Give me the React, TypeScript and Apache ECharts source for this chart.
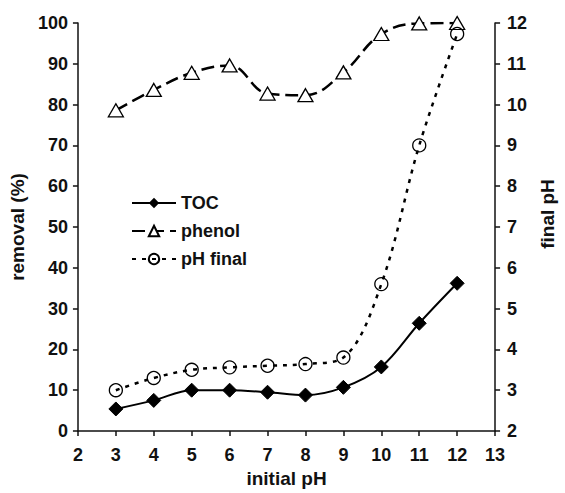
import React, { useEffect, useRef } from "react";
import * as echarts from "echarts";

const initialPH = [3, 4, 5, 6, 7, 8, 9, 10, 11, 12];
const tocRemoval = [5.4, 7.5, 10.0, 10.0, 9.5, 8.8, 10.7, 15.7, 26.4, 36.2];
const phenolRemoval = [78.6, 83.6, 87.8, 89.6, 82.7, 82.3, 87.9, 97.3, 99.9, 100];
const finalPH = [3.0, 3.3, 3.5, 3.56, 3.6, 3.64, 3.8, 5.6, 9.0, 11.73];

const FONT = "'Liberation Sans', Arial, sans-serif";

export default function App() {
  const ref = useRef<HTMLDivElement>(null);
  useEffect(() => {
    if (!ref.current) return;
    const chart = echarts.init(ref.current, undefined, { renderer: "svg" });
    const pair = (ys: number[]) => initialPH.map((x, i) => [x, ys[i]]);
    const labelStyle = { color: "#111", fontFamily: FONT, fontWeight: 700, fontSize: 18 };
    const nameStyle = { color: "#111", fontFamily: FONT, fontWeight: 700, fontSize: 19 };
    const axisLine = { show: true, lineStyle: { color: "#111", width: 1.5 } };
    const axisTick = { show: true, length: 5, inside: false, lineStyle: { color: "#111", width: 1.5 } };
    chart.setOption({
      animation: false,
      backgroundColor: "#fff",
      grid: { left: 76, right: 63, top: 23, bottom: 60, containLabel: false },
      legend: {
        orient: "vertical",
        left: 126,
        top: 189,
        itemWidth: 44,
        itemHeight: 13,
        itemGap: 10,
        textStyle: { ...labelStyle, fontSize: 18 },
        data: ["TOC", "phenol", "pH final"],
      },
      xAxis: {
        type: "value",
        min: 2,
        max: 13,
        interval: 1,
        name: "initial pH",
        nameLocation: "middle",
        nameGap: 38,
        nameTextStyle: nameStyle,
        axisLine,
        axisTick,
        splitLine: { show: false },
        axisLabel: { ...labelStyle, margin: 15 },
      },
      yAxis: [
        {
          type: "value",
          min: 0,
          max: 100,
          interval: 10,
          name: "removal (%)",
          nameLocation: "middle",
          nameGap: 50,
          nameTextStyle: nameStyle,
          axisLine,
          axisTick,
          splitLine: { show: false },
          axisLabel: { ...labelStyle, margin: 10 },
        },
        {
          type: "value",
          min: 2,
          max: 12,
          interval: 1,
          position: "right",
          name: "final pH",
          nameLocation: "middle",
          nameGap: 38,
          nameTextStyle: { ...nameStyle, padding: [0, 0, 0, 26] },
          axisLine,
          axisTick,
          splitLine: { show: false },
          axisLabel: { ...labelStyle, margin: 12 },
        },
      ],
      series: [
        {
          name: "TOC",
          type: "line",
          yAxisIndex: 0,
          data: pair(tocRemoval),
          smooth: 0.35,
          symbol: "diamond",
          symbolSize: 14,
          lineStyle: { color: "#000", width: 2 },
          itemStyle: { color: "#000", borderColor: "#000" },
          z: 3,
        },
        {
          name: "phenol",
          type: "line",
          yAxisIndex: 0,
          data: pair(phenolRemoval),
          smooth: 0.4,
          symbol: "triangle",
          symbolSize: [15, 13],
          lineStyle: { color: "#000", width: 2.5, type: [13, 6] },
          itemStyle: { color: "#fff", borderColor: "#000", borderWidth: 1.3 },
          z: 2,
        },
        {
          name: "pH final",
          type: "line",
          yAxisIndex: 1,
          data: pair(finalPH),
          smooth: 0.35,
          symbol: "circle",
          symbolSize: 13,
          lineStyle: { color: "#000", width: 2.5, type: [4, 6] },
          itemStyle: { color: "rgba(255,255,255,0)", borderColor: "#000", borderWidth: 1.3 },
          z: 2,
        },
      ],
    });
    return () => chart.dispose();
  }, []);
  return (
    <div
      ref={ref}
      style={{ position: "fixed", left: 0, top: 0, width: 565, height: 493 }}
    />
  );
}
